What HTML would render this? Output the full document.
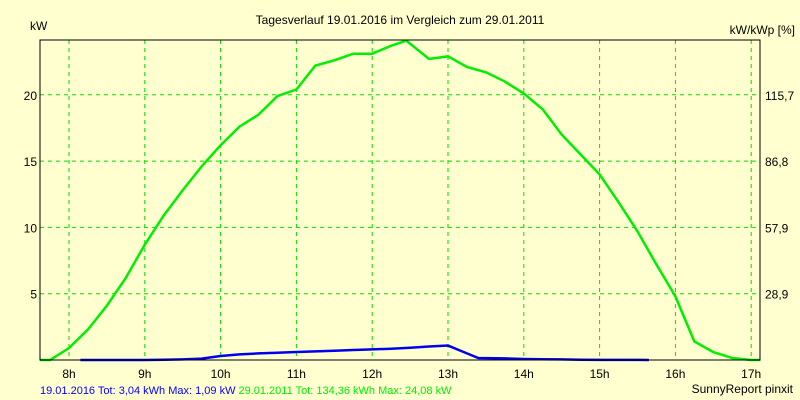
<!DOCTYPE html>
<html><head><meta charset="utf-8"><style>
body{margin:0;background:#ffffd0;}
svg{display:block;font-family:"Liberation Sans",sans-serif;font-size:12px;}
</style></head><body>
<svg id="chart" width="800" height="400">
<rect x="0" y="0" width="800" height="400" fill="#ffffd0"/>
<text x="400" y="24" text-anchor="middle">Tagesverlauf 19.01.2016 im Vergleich zum 29.01.2011</text>
<text x="30" y="30">kW</text>
<text x="795" y="34" text-anchor="end">kW/kWp [%]</text>
<g id="grid"></g>
<g id="ticks"></g>
<g id="series"></g>
<rect x="40" y="40" width="720" height="320" fill="none" stroke="#000" stroke-width="1"/>
<text x="40" y="394" font-size="11"><tspan fill="#0000ff">19.01.2016 Tot: 3,04 kWh Max: 1,09 kW</tspan><tspan fill="#00ee00" dx="3">29.01.2011 Tot: 134,36 kWh Max: 24,08 kW</tspan></text>
<text x="793" y="393" text-anchor="end">SunnyReport pinxit</text>
</svg>
<script>
const hourTicks=[8,9,10,11,12,13,14,15,16,17];
const kwTicks=[5,10,15,20];
const pctLabels=["28,9","57,9","86,8","115,7"];
const greenTimes=[7.617,7.75,8,8.25,8.5,8.75,9,9.25,9.5,9.75,10,10.25,10.5,10.75,11,11.25,11.5,11.75,12,12.25,12.45,12.75,13,13.25,13.5,13.75,14,14.25,14.5,14.75,15,15.25,15.5,15.75,16,16.25,16.5,16.75,17,17.12];
const greenValues=[0,0,0.9,2.3,4.1,6.2,8.7,10.9,12.8,14.6,16.2,17.6,18.5,19.9,20.4,22.2,22.6,23.1,23.1,23.7,24.08,22.7,22.9,22.1,21.7,21.0,20.1,18.9,17.0,15.5,14.0,11.9,9.7,7.2,4.8,1.4,0.6,0.15,0,0];
const blueTimes=[8.15,8.5,9,9.25,9.5,9.75,10,10.25,10.5,10.75,11,11.25,11.5,11.75,12,12.25,12.5,12.75,13,13.25,13.4,13.75,14,14.25,14.5,14.75,15,15.25,15.5,15.65];
const blueValues=[0,0,0,0.02,0.05,0.1,0.3,0.42,0.5,0.55,0.6,0.65,0.7,0.75,0.8,0.85,0.92,1.02,1.09,0.5,0.15,0.12,0.08,0.06,0.05,0.02,0.01,0.01,0.01,0];
const X=t=>69+(t-8)*75.8;
const Y=v=>360-v*13.26;
const NS="http://www.w3.org/2000/svg";
const grid=document.getElementById('grid'),ticks=document.getElementById('ticks'),series=document.getElementById('series');
function mk(tag,attrs,parent){const e=document.createElementNS(NS,tag);for(const k in attrs)e.setAttribute(k,attrs[k]);parent.appendChild(e);return e;}
hourTicks.forEach(h=>{
  const l=mk('line',{x1:X(h),x2:X(h),y1:40,y2:360,stroke:'#00dd00','stroke-dasharray':'4,4'},grid);
  
  
  const t=mk('text',{x:X(h),y:378,'text-anchor':'middle'},ticks);t.textContent=h+'h';
  
  
});
kwTicks.forEach((v,i)=>{
  const l=mk('line',{x1:40,x2:760,y1:Y(v),y2:Y(v),stroke:'#00dd00','stroke-dasharray':'4,4'},grid);
  
  
  const t=mk('text',{x:37,y:Y(v)+5,'text-anchor':'end'},ticks);t.textContent=v;
  
  
  const r=mk('text',{x:765,y:Y(v)+5},ticks);r.textContent=pctLabels[i];
  
  
});
const g=mk('polyline',{points:greenTimes.map((t,i)=>X(t)+','+Y(greenValues[i])).join(' '),fill:'none',stroke:'#00ee00','stroke-width':2.5},series);


const b=mk('polyline',{points:blueTimes.map((t,i)=>X(t)+','+Y(blueValues[i])).join(' '),fill:'none',stroke:'#0000ee','stroke-width':2.5},series);


</script>
</body></html>
